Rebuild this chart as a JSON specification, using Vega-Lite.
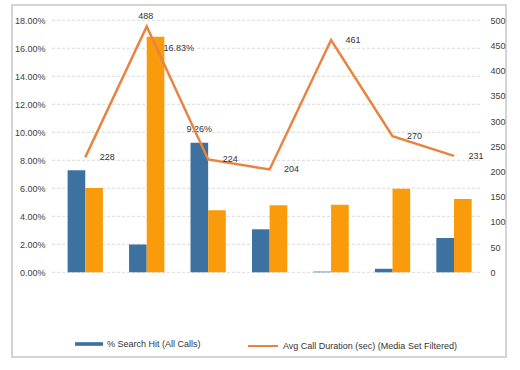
{
  "$schema": "https://vega.github.io/schema/vega-lite/v6.json",
  "width": 494,
  "height": 352,
  "autosize": {"type": "none"},
  "padding": {"left": 12, "top": 5, "right": 14, "bottom": 13},
  "background": "white",
  "config": {
    "view": {"stroke": "#d4d4d4", "strokeWidth": 2},
    "font": "Liberation Sans",
    "axis": {"labelFont": "Liberation Sans", "labelFontSize": 9, "labelColor": "#404040", "domain": false, "ticks": false, "grid": false, "title": null, "labelPadding": 4},
    "legend": {"labelFont": "Liberation Sans", "labelFontSize": 9, "labelColor": "#333333", "title": null, "labelLimit": 400}
  },
  "datasets": {
    "grid": [{"pct": 0}, {"pct": 0.02}, {"pct": 0.04}, {"pct": 0.06}, {"pct": 0.08}, {"pct": 0.10}, {"pct": 0.12}, {"pct": 0.14}, {"pct": 0.16}, {"pct": 0.18}],
    "bars": [
      {"cat": "C1", "series": "% Search Hit (All Calls)", "pct": 0.0729},
      {"cat": "C1", "series": "% Search Hit (Media Set Filtered)", "pct": 0.0602},
      {"cat": "C2", "series": "% Search Hit (All Calls)", "pct": 0.0198},
      {"cat": "C2", "series": "% Search Hit (Media Set Filtered)", "pct": 0.1683},
      {"cat": "C3", "series": "% Search Hit (All Calls)", "pct": 0.0926},
      {"cat": "C3", "series": "% Search Hit (Media Set Filtered)", "pct": 0.0443},
      {"cat": "C4", "series": "% Search Hit (All Calls)", "pct": 0.0307},
      {"cat": "C4", "series": "% Search Hit (Media Set Filtered)", "pct": 0.0478},
      {"cat": "C5", "series": "% Search Hit (All Calls)", "pct": 0.0005},
      {"cat": "C5", "series": "% Search Hit (Media Set Filtered)", "pct": 0.0483},
      {"cat": "C6", "series": "% Search Hit (All Calls)", "pct": 0.0025},
      {"cat": "C6", "series": "% Search Hit (Media Set Filtered)", "pct": 0.0596},
      {"cat": "C7", "series": "% Search Hit (All Calls)", "pct": 0.0245},
      {"cat": "C7", "series": "% Search Hit (Media Set Filtered)", "pct": 0.0524}
    ],
    "line": [
      {"cat": "C1", "dur": 228},
      {"cat": "C2", "dur": 488},
      {"cat": "C3", "dur": 224},
      {"cat": "C4", "dur": 204},
      {"cat": "C5", "dur": 461},
      {"cat": "C6", "dur": 270},
      {"cat": "C7", "dur": 231}
    ]
  },
  "layer": [
    {
      "data": {"name": "grid"},
      "mark": {"type": "rule", "color": "#d9d9d9", "strokeDash": [3, 2], "strokeWidth": 1},
      "encoding": {
        "x": {"datum": 0.081, "type": "quantitative", "scale": {"domain": [0, 1]}, "axis": null},
        "x2": {"datum": 0.951},
        "y": {"field": "pct", "type": "quantitative", "scale": {"domain": [-0.0605, 0.1909]}, "axis": null}
      }
    },
    {
      "data": {"name": "bars"},
      "encoding": {
        "x": {"field": "cat", "type": "nominal", "scale": {"type": "band", "domain": ["C1", "C2", "C3", "C4", "C5", "C6", "C7"], "paddingInner": 0.4256, "paddingOuter": 0.732, "align": 0.618}, "axis": null},
        "xOffset": {"field": "series", "type": "nominal", "scale": {"domain": ["% Search Hit (All Calls)", "% Search Hit (Media Set Filtered)"], "paddingInner": 0, "paddingOuter": 0}},
        "y": {"field": "pct", "type": "quantitative", "scale": {"domain": [-0.0605, 0.1909]}, "axis": {"orient": "left", "values": [0, 0.02, 0.04, 0.06, 0.08, 0.1, 0.12, 0.14, 0.16, 0.18], "format": ".2%", "offset": -37}}
      },
      "layer": [
        {
          "mark": {"type": "bar"},
          "encoding": {
            "fill": {"field": "series", "type": "nominal", "scale": {"domain": ["% Search Hit (All Calls)", "% Search Hit (Media Set Filtered)"], "range": ["#3d72a0", "#fa9b0b"]},
              "legend": {"values": ["% Search Hit (All Calls)"], "orient": "none", "legendX": 63, "legendY": 325, "symbolType": "M-1,-0.13H1V0.13H-1Z", "symbolSize": 784, "symbolStrokeWidth": 0}}
          }
        },
        {
          "transform": [{"filter": "datum.pct === 0.1683"}],
          "mark": {"type": "text", "align": "left", "baseline": "middle", "dx": 8, "dy": 11, "fontSize": 9, "color": "#333333"},
          "encoding": {"text": {"field": "pct", "type": "quantitative", "format": ".2%"}}
        },
        {
          "transform": [{"filter": "datum.pct === 0.0926"}],
          "mark": {"type": "text", "align": "center", "baseline": "middle", "dy": -14, "fontSize": 9, "color": "#333333"},
          "encoding": {"text": {"field": "pct", "type": "quantitative", "format": ".2%"}}
        }
      ]
    },
    {
      "data": {"name": "line"},
      "encoding": {
        "x": {"field": "cat", "type": "nominal", "scale": {"type": "band", "domain": ["C1", "C2", "C3", "C4", "C5", "C6", "C7"], "paddingInner": 0.4256, "paddingOuter": 0.732, "align": 0.618}, "axis": null},
        "y": {"field": "dur", "type": "quantitative", "scale": {"domain": [-168.1, 530.4]}, "axis": {"orient": "right", "values": [0, 50, 100, 150, 200, 250, 300, 350, 400, 450, 500], "offset": -20}}
      },
      "layer": [
        {
          "mark": {"type": "line", "strokeWidth": 2.5},
          "encoding": {
            "stroke": {"datum": "Avg Call Duration (sec) (Media Set Filtered)", "type": "nominal", "scale": {"range": ["#e8843f"]},
              "legend": {"orient": "none", "legendX": 235, "legendY": 325, "symbolType": "stroke", "symbolSize": 900, "symbolStrokeWidth": 2}}
          }
        },
        {
          "transform": [{"filter": "datum.dur !== 488"}],
          "mark": {"type": "text", "align": "center", "baseline": "middle", "dx": 22, "fontSize": 9, "color": "#333333"},
          "encoding": {"text": {"field": "dur", "type": "quantitative"}}
        },
        {
          "transform": [{"filter": "datum.dur === 488"}],
          "mark": {"type": "text", "align": "center", "baseline": "middle", "dx": -1, "dy": -10, "fontSize": 9, "color": "#333333"},
          "encoding": {"text": {"field": "dur", "type": "quantitative"}}
        }
      ]
    }
  ],
  "resolve": {"scale": {"x": "independent", "y": "independent", "fill": "independent", "stroke": "independent"}}
}
